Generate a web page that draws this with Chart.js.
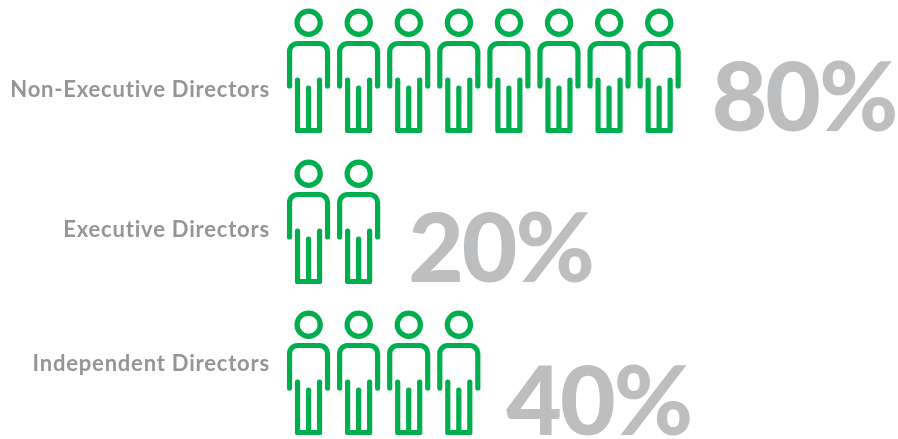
<!DOCTYPE html>
<html lang="en">
<head>
  <meta charset="UTF-8">
  <title>Board composition</title>
  <script src="https://cdn.jsdelivr.net/npm/chart.js"></script>
  <style>
    html, body { margin: 0; padding: 0; background: #fff; }
    #wrap { width: 898px; height: 439px; }
  </style>
</head>
<body>
  <div id="wrap"><canvas id="boardChart"></canvas></div>
  <script>
    const categories = ['Non-Executive Directors', 'Executive Directors', 'Independent Directors'];
    const shares = [80, 20, 40];
    const perPerson = 10; // one figure stands for 10%

    const GREEN = '#00ae4d';
    const LABEL_GREY = '#939598';
    const PERCENT_GREY = '#bcbec0';

    // row labels and big numbers do not sit on the row centre
    const labelNudge = [18, 7, -10];
    const percentNudge = [28, 28, 30];
    const percentGap = [27, 24, 22];

    function drawPerson(ctx, cx, cy) {
      ctx.save();
      ctx.translate(cx, cy);
      ctx.strokeStyle = GREEN;
      ctx.lineWidth = 5.2;
      ctx.lineCap = 'round';
      ctx.lineJoin = 'round';

      // head
      ctx.beginPath();
      ctx.arc(-0.4, -49.3, 11.6, 0, Math.PI * 2);
      ctx.stroke();

      // shoulders and arms
      ctx.beginPath();
      ctx.moveTo(-19.5, 14);
      ctx.lineTo(-19.5, -20);
      ctx.arcTo(-19.5, -28.5, -11, -28.5, 8);
      ctx.lineTo(10, -28.5);
      ctx.arcTo(18.5, -28.5, 18.5, -20, 8);
      ctx.lineTo(18.5, 14);
      ctx.stroke();

      // legs
      ctx.beginPath();
      ctx.moveTo(-11.5, 8);
      ctx.lineTo(-11.5, 58.5);
      ctx.lineTo(10.5, 58.5);
      ctx.lineTo(10.5, 8);
      ctx.moveTo(-0.5, 16);
      ctx.lineTo(-0.5, 58.5);
      ctx.stroke();
      ctx.restore();
    }

    // draws the figures and texts of each row from the bar scales
    const peoplePlugin = {
      id: 'people',
      afterDatasetsDraw(chart) {
        const ctx = chart.ctx;
        const xScale = chart.scales.x;
        const yScale = chart.scales.y;
        shares.forEach((value, row) => {
          const y = yScale.getPixelForValue(row);
          for (let v = 0; v < value; v += perPerson) {
            drawPerson(ctx, xScale.getPixelForValue(v + perPerson / 2), y);
          }

          ctx.textBaseline = 'middle';
          ctx.textAlign = 'right';
          ctx.fillStyle = LABEL_GREY;
          ctx.font = 'bold 22px Lato, sans-serif';
          ctx.letterSpacing = '0.8px';
          ctx.fillText(categories[row], 270, y + labelNudge[row]);

          ctx.textAlign = 'left';
          ctx.fillStyle = PERCENT_GREY;
          ctx.font = '900 96px Lato, sans-serif';
          ctx.letterSpacing = '-2px';
          ctx.fillText(value + '%', xScale.getPixelForValue(value) + percentGap[row], y + percentNudge[row]);
        });
      }
    };

    new Chart(document.getElementById('boardChart'), {
      type: 'bar',
      data: {
        labels: categories,
        datasets: [{ data: shares, backgroundColor: 'rgba(0,0,0,0)' }]
      },
      options: {
        indexAxis: 'y',
        responsive: true,
        maintainAspectRatio: false,
        animation: false,
        layout: { padding: { left: 284, right: 13, top: 72, bottom: 65 } },
        plugins: { legend: { display: false }, tooltip: { enabled: false } },
        scales: {
          x: { display: false, min: 0, max: 120 },
          y: { display: false, offset: false }
        }
      },
      plugins: [peoplePlugin]
    });
  </script>
</body>
</html>
